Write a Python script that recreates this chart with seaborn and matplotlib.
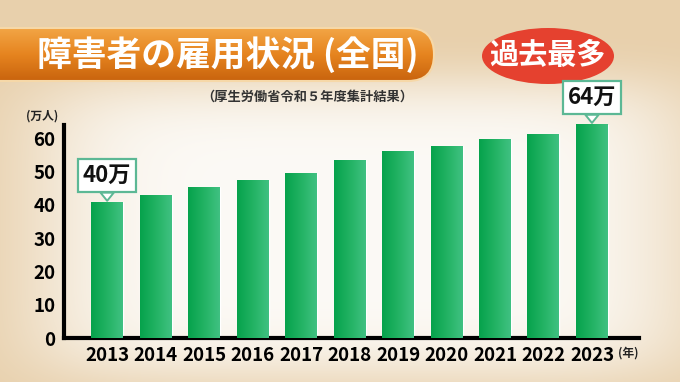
import numpy as np
import pandas as pd
import matplotlib
import matplotlib.pyplot as plt
import seaborn as sns
from matplotlib.patches import FancyBboxPatch, Ellipse
from matplotlib.colors import LinearSegmentedColormap

# data
years = ['2013', '2014', '2015', '2016', '2017', '2018', '2019', '2020', '2021', '2022', '2023']
employed = [40.8, 43.1, 45.4, 47.4, 49.6, 53.5, 56.1, 57.8, 59.8, 61.4, 64.2]
callout_years = ['2013', '2023']
callout_labels = ['40万', '64万']
yticks = [0, 10, 20, 30, 40, 50, 60]

title = '障害者の雇用状況 (全国)'
badge = '過去最多'
source = '（厚生労働省令和５年度集計結果）'

sns.set_theme(style='white')
plt.rcParams['font.family'] = ['Noto Sans CJK JP', 'DejaVu Sans']
plt.rcParams['font.weight'] = 'bold'

W, H = 680, 382
fig = plt.figure(figsize=(W / 100, H / 100), dpi=100)

# background (pixel coordinates)
bg = fig.add_axes([0, 0, 1, 1])
bg.set_xlim(0, W)
bg.set_ylim(H, 0)
bg.axis('off')
yy, xx = np.mgrid[0:H, 0:W]
d = ((xx - 360) / 330.0) ** 6 + ((yy - 228) / 150.0) ** 6
w = np.exp(-d)[..., None]
tan = np.array([232, 208, 172]) / 255
white = np.array([252, 250, 246]) / 255
bg.imshow(w * white + (1 - w) * tan, extent=(0, W, H, 0), aspect='auto', zorder=0)

# title banner
banner = FancyBboxPatch((-30, 28), 464, 53, boxstyle='round,pad=0,rounding_size=26',
                        fc='none', ec='#f6d8a8', lw=1.5, zorder=2)
bg.add_patch(banner)
orange = LinearSegmentedColormap.from_list('o', ['#f2a545', '#e6841f', '#c9640e'])
g = bg.imshow(np.linspace(0, 1, 64)[:, None], cmap=orange, extent=(-30, 434, 81, 28),
              aspect='auto', zorder=1)
g.set_clip_path(banner)
bg.text(37, 55, title, color='white', fontsize=25, fontweight='bold',
        va='center', ha='left', zorder=3)

# badge
bg.add_patch(Ellipse((548, 56), 132, 56, fc='#e5412f', ec='none', zorder=2))
bg.text(548, 55, badge, color='white', fontsize=21, fontweight='bold',
        ha='center', va='center', zorder=3)

bg.text(307, 97, source, color='#333333', fontsize=9.5, fontweight='bold',
        ha='center', va='center')
bg.text(42, 116, '(万人)', color='#222222', fontsize=8.5, fontweight='bold',
        ha='center', va='center')
bg.text(628, 353, '(年)', color='#222222', fontsize=8.5, fontweight='bold',
        ha='center', va='center')

# main chart
ax = fig.add_axes([64 / W, 1 - 338 / H, (639 - 64) / W, (338 - 125) / H])
ax.patch.set_alpha(0)
df = pd.DataFrame({'year': years, 'value': employed})
sns.barplot(data=df, x='year', y='value', color='#1fb060', width=0.66, ax=ax,
            saturation=1, zorder=2)

green = LinearSegmentedColormap.from_list('g', ['#06a24c', '#22b263', '#40c182'])
for p in ax.patches:
    x0, y0 = p.get_x(), p.get_y()
    pw, ph = p.get_width(), p.get_height()
    im = ax.imshow(np.linspace(0, 1, 64)[None, :], cmap=green,
                   extent=(x0, x0 + pw, y0, y0 + ph), aspect='auto', zorder=3)
    im.set_clip_path(p)

ax.set_xlim(-0.89, 10.97)
ax.set_ylim(0, 64)
ax.set_yticks(yticks)
ax.set_xlabel('')
ax.set_ylabel('')
for s in ['top', 'right']:
    ax.spines[s].set_visible(False)
for s in ['left', 'bottom']:
    ax.spines[s].set_color('black')
    ax.spines[s].set_linewidth(3)
ax.tick_params(axis='y', direction='in', length=5, width=2.5, pad=6,
               labelsize=13.5, colors='black')
ax.tick_params(axis='x', length=0, pad=6, labelsize=13.5, colors='black')
for lab in ax.get_xticklabels() + ax.get_yticklabels():
    lab.set_fontweight('bold')

# callouts
for yr, lab in zip(callout_years, callout_labels):
    i = years.index(yr)
    ax.annotate(lab, xy=(i, employed[i]), xytext=(0, 11), textcoords='offset points',
                ha='center', va='bottom', fontsize=16, fontweight='bold', color='#111111',
                bbox=dict(boxstyle='square,pad=0.22', fc='white', ec='#5cb895', lw=1.6),
                arrowprops=dict(arrowstyle='wedge,tail_width=0.6,shrink_factor=0.5',
                                fc='white', ec='#5cb895', lw=1.4, shrinkA=0, shrinkB=1),
                annotation_clip=False, zorder=5)

fig.savefig('out.png', dpi=100)
